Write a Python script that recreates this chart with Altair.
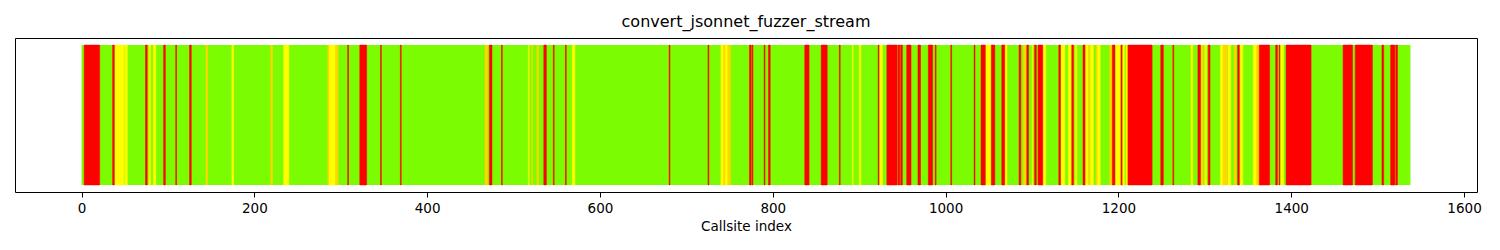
import altair as alt
import pandas as pd

# Number of callsites (bars span index i .. i+1)
n_callsites = 1538

# Non-green stretches: start index, end index, colour class
seg_start = [3, 36, 39, 50, 74, 78, 83, 95, 109, 125,
             144, 174, 219, 234,
             285, 287, 294, 308, 322, 346, 369,
             467, 472, 486,
             517, 521, 527, 535, 546, 560, 568,
             680, 725, 740, 743, 745, 748,
             773, 776, 790, 795, 837, 856, 877, 892, 900,
             922, 924, 932, 945, 948, 955, 968, 980, 988, 1006, 1033,
             1041, 1047, 1053, 1065, 1069, 1085, 1090, 1094, 1100, 1103, 1107, 1113,
             1131, 1134, 1142, 1146, 1150, 1159, 1162,
             1166, 1168, 1174, 1176, 1190, 1193, 1197, 1203, 1205, 1209, 1211,
             1249, 1263, 1284, 1292,
             1296, 1300, 1304, 1318, 1321, 1327, 1334, 1338, 1341, 1356, 1360, 1363,
             1382, 1386, 1388, 1394,
             1460, 1474, 1505, 1515, 1521]
seg_end = [21, 38, 49, 53, 76, 80, 86, 97, 110, 127,
           146, 176, 221, 240,
           287, 294, 297, 309, 330, 347, 370,
           470, 475, 487,
           518, 522, 529, 538, 547, 561, 571,
           681, 726, 743, 745, 748, 751,
           775, 777, 791, 797, 842, 863, 878, 893, 902,
           923, 927, 944, 947, 950, 960, 971, 985, 989, 1007, 1034,
           1046, 1052, 1057, 1069, 1071, 1087, 1093, 1096, 1101, 1105, 1113, 1116,
           1133, 1138, 1146, 1148, 1152, 1162, 1165,
           1168, 1171, 1176, 1179, 1193, 1196, 1202, 1205, 1207, 1211, 1239,
           1252, 1264, 1286, 1295,
           1298, 1302, 1306, 1321, 1326, 1330, 1336, 1340, 1344, 1360, 1363, 1375,
           1384, 1387, 1391, 1423,
           1471, 1494, 1507, 1520, 1523]
seg_color = ["red", "red", "yellow", "yellow", "red", "yellow", "yellow", "red", "red", "red",
             "gold", "yellow", "gold", "yellow",
             "gold", "yellow", "gold", "red", "red", "red", "red",
             "gold", "red", "red",
             "yellow", "gold", "gold", "red", "red", "red", "yellow",
             "red", "red", "yellow", "gold", "yellow", "gold",
             "red", "red", "red", "red", "red", "red", "red", "yellow", "yellow",
             "red", "yellow", "red", "red", "red", "red", "red", "red", "red", "red", "red",
             "red", "yellow", "red", "red", "yellow", "red", "gold", "red", "yellow", "red", "red", "yellow",
             "red", "yellow", "yellow", "red", "yellow", "red", "yellow",
             "gold", "yellow", "gold", "yellow", "gold", "red", "yellow", "red", "yellow", "yellow", "red",
             "red", "red", "yellow", "red",
             "gold", "yellow", "red", "yellow", "gold", "yellow", "gold", "red", "yellow", "yellow", "gold", "red",
             "red", "red", "yellow", "red",
             "red", "red", "red", "red", "red"]

color_names = ["green", "yellow", "gold", "red"]
color_values = ["#7cfc00", "#ffff00", "#ffd700", "#ff0000"]

base_df = pd.DataFrame({"start": [0], "end": [n_callsites], "status": ["green"],
                        "y0": [0.0], "y1": [1.0]})
seg_df = pd.DataFrame({"start": seg_start, "end": seg_end, "status": seg_color})
seg_df["y0"] = 0.0
seg_df["y1"] = 1.0

font = "DejaVu Sans"

x_enc = alt.X("start:Q",
              scale=alt.Scale(domain=[-77, 1615], nice=False, zero=False),
              axis=alt.Axis(values=list(range(0, 1601, 200)), format="d", title="Callsite index",
                            grid=False, domain=False, tickColor="black", tickSize=5,
                            labelFontSize=13.5, labelColor="black", labelFont=font,
                            labelPadding=4, titleFont=font, titleFontSize=13.5,
                            titleFontWeight="normal", titleColor="black", titlePadding=5))
y_enc = alt.Y("y0:Q", scale=alt.Scale(domain=[-0.05, 1.05], nice=False, zero=False), axis=None)
c_enc = alt.Color("status:N", scale=alt.Scale(domain=color_names, range=color_values), legend=None)

base = alt.Chart(base_df).mark_rect().encode(x=x_enc, x2="end:Q", y=y_enc, y2="y1:Q", color=c_enc)
segs = alt.Chart(seg_df).mark_rect(strokeWidth=0.5).encode(
    x=x_enc, x2="end:Q", y=y_enc, y2="y1:Q", color=c_enc,
    stroke=alt.Stroke("status:N", scale=alt.Scale(domain=color_names, range=color_values), legend=None),
)

chart = alt.layer(base, segs).properties(
    width=1462,
    height=154,
    autosize=alt.AutoSizeParams(type="none"),
    padding={"left": 7, "top": 30, "right": 15, "bottom": 48},
    title=alt.TitleParams("convert_jsonnet_fuzzer_stream", font=font, fontSize=16,
                          fontWeight="normal", color="black", offset=8),
).configure_view(
    stroke="black", strokeWidth=1
)

chart.save("out.html", embed_options={"renderer": "svg", "actions": False})
